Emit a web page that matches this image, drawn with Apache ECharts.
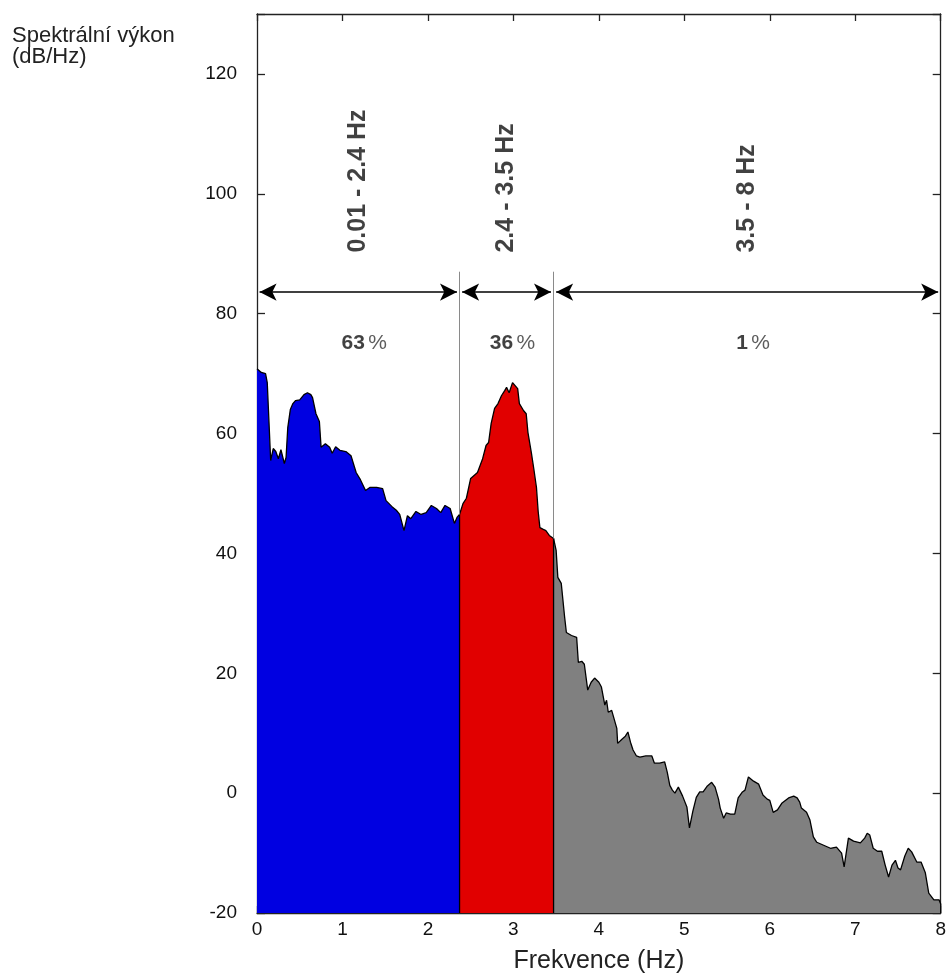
<!DOCTYPE html>
<html>
<head>
<meta charset="utf-8">
<script src="https://cdn.jsdelivr.net/npm/echarts@6/dist/echarts.min.js"></script>
<style>
    html, body { margin: 0; padding: 0; background: #fff; }
    #main { width: 949px; height: 979px; }
</style>
</head>
<body>
<div id="main"></div>
<script>
// pasma a jejich popisky
var bandEdges = [0, 2.37, 3.47, 8];
var bandRange = ['0.01 - 2.4 Hz', '2.4 - 3.5 Hz', '3.5 - 8 Hz'];
var bandShare = [63, 36, 1];

// 0.01 - 2.4 Hz
var freqLow = [0.00, 0.05, 0.10, 0.12, 0.14, 0.16, 0.19, 0.22, 0.25, 0.28, 0.32, 0.34, 0.36, 0.39, 0.42, 0.45,
    0.50, 0.55, 0.59, 0.63, 0.65, 0.69, 0.73, 0.75, 0.80, 0.85, 0.88, 0.92, 0.97, 1.04, 1.10, 1.12,
    1.16, 1.21, 1.27, 1.32, 1.40, 1.47, 1.51, 1.58, 1.63, 1.67, 1.72, 1.76, 1.80, 1.86, 1.92, 1.98,
    2.04, 2.10, 2.15, 2.20, 2.26, 2.31, 2.34, 2.37];
var powerLow = [70.8, 70.2, 70.0, 68.5, 62.0, 55.5, 57.5, 57.0, 55.8, 57.3, 55.0, 56.0, 61.0, 64.0, 65.0, 65.5,
    65.6, 66.5, 66.8, 66.5, 66.0, 63.3, 62.0, 57.7, 58.3, 57.7, 56.7, 57.8, 57.2, 57.0, 56.3, 56.0,
    53.5, 52.3, 50.5, 51.0, 51.0, 50.8, 48.8, 47.8, 47.2, 46.5, 43.8, 46.3, 45.8, 47.0, 46.5, 46.8,
    48.0, 47.5, 46.8, 48.0, 47.5, 45.0, 46.0, 46.5];

// 2.4 - 3.5 Hz
var freqMid = [2.37, 2.41, 2.45, 2.50, 2.54, 2.58, 2.64, 2.68, 2.71, 2.74, 2.78, 2.82, 2.86, 2.90, 2.92, 2.95,
    2.99, 3.02, 3.05, 3.07, 3.09, 3.12, 3.15, 3.17, 3.21, 3.24, 3.27, 3.29, 3.31, 3.35, 3.38, 3.42, 3.47];
var powerMid = [46.5, 48.3, 49.2, 52.5, 53.0, 53.5, 55.8, 58.0, 58.5, 61.7, 64.2, 65.0, 66.3, 67.2, 67.7, 66.8,
    68.5, 68.0, 67.5, 65.0, 65.2, 63.8, 63.3, 60.2, 56.8, 54.0, 51.0, 47.0, 44.3, 44.0, 43.8, 43.0, 42.5];

// 3.5 - 8 Hz
var freqHigh = [3.47, 3.50, 3.52, 3.56, 3.60, 3.62, 3.68, 3.74, 3.76, 3.80, 3.83, 3.87, 3.91, 3.95, 4.00, 4.03,
    4.07, 4.09, 4.11, 4.15, 4.21, 4.22, 4.27, 4.31, 4.34, 4.37, 4.40, 4.44, 4.48, 4.55, 4.62, 4.65,
    4.71, 4.77, 4.80, 4.83, 4.86, 4.89, 4.93, 4.98, 5.03, 5.06, 5.10, 5.14, 5.18, 5.22, 5.27, 5.32,
    5.36, 5.40, 5.42, 5.46, 5.49, 5.54, 5.59, 5.63, 5.68, 5.71, 5.75, 5.81, 5.87, 5.92, 5.97, 6.00,
    6.04, 6.09, 6.14, 6.22, 6.28, 6.32, 6.35, 6.37, 6.43, 6.47, 6.51, 6.55, 6.63, 6.71, 6.78, 6.84,
    6.87, 6.92, 6.98, 7.06, 7.11, 7.14, 7.17, 7.21, 7.26, 7.31, 7.35, 7.39, 7.43, 7.47, 7.50, 7.53,
    7.58, 7.62, 7.66, 7.72, 7.77, 7.82, 7.86, 7.92, 7.98, 8.00];
var powerHigh = [42.5, 40.5, 36.0, 35.0, 29.3, 26.8, 26.3, 26.0, 21.8, 22.0, 21.5, 17.2, 18.5, 19.2, 18.5, 17.7,
    14.7, 15.5, 13.5, 13.8, 10.8, 8.3, 9.0, 9.5, 10.2, 8.5, 7.2, 6.2, 6.0, 6.2, 6.2, 5.0,
    5.0, 5.2, 3.5, 1.3, 0.5, 0.0, 1.0, -0.5, -2.3, -5.8, -3.0, -0.7, 0.2, 0.2, 1.2, 1.8,
    1.0, -1.0, -2.5, -4.2, -3.3, -3.5, -3.5, -0.8, 0.2, 0.5, 2.7, 2.0, 1.5, -0.3, -1.0, -1.2,
    -3.2, -2.8, -1.7, -0.8, -0.5, -0.8, -1.5, -2.5, -3.2, -4.5, -7.3, -8.2, -8.7, -9.2, -9.0, -10.0,
    -12.3, -7.5, -8.0, -8.3, -7.5, -6.7, -7.0, -9.2, -9.7, -9.7, -12.0, -14.0, -12.0, -11.2, -12.5, -12.8,
    -10.5, -9.2, -9.8, -11.5, -11.5, -13.3, -16.7, -17.8, -17.8, -18.5];

var yMin = -20, yMax = 130;
var arrowLevel = 83.6;     // dB, vyska sipek
var edgeLineTop = 87.0;    // dB, zacatek sedych car
var rangeLabelY = 90.2;    // dB, spodek svislych popisku
var shareLabelY = 75.0;    // dB, procenta
var arrowGap = 0.03;

var textFont = "'Liberation Sans', Arial, sans-serif";

function buildArea(freq, power) {
    var list = [];
    for (var i = 0; i < freq.length; i++) {
        list.push([freq[i], power[i]]);
    }
    // svisla hrana plochy az dolu
    list.push([freq[freq.length - 1], yMin]);
    return list;
}

function areaSeries(name, freq, power, color) {
    return {
        name: name,
        type: 'line',
        data: buildArea(freq, power),
        showSymbol: false,
        symbol: 'none',
        lineStyle: { color: '#000', width: 1.3 },
        areaStyle: { color: color, opacity: 1, origin: 'start' },
        z: 2,
        animation: false
    };
}

function frameAxis(extra) {
    var axis = {
        type: 'value',
        axisLine: { onZero: false, lineStyle: { color: '#222', width: 1.3 } },
        axisTick: { inside: true, length: 7, lineStyle: { color: '#222', width: 1.3 } },
        axisLabel: { show: false },
        splitLine: { show: false }
    };
    for (var k in extra) {
        axis[k] = extra[k];
    }
    return axis;
}

var arrowData = [];
var edgeData = [];
var rangeData = [];
var shareData = [];
var edgeValues = [powerLow[powerLow.length - 1], powerMid[powerMid.length - 1]];
for (var i = 0; i < bandRange.length; i++) {
    var a = bandEdges[i], b = bandEdges[i + 1];
    arrowData.push([{ coord: [a + arrowGap, arrowLevel] }, { coord: [b - arrowGap, arrowLevel] }]);
    rangeData.push({ value: [(a + b) / 2, rangeLabelY], name: bandRange[i] });
    shareData.push({ value: [(a + b) / 2 + 0.07, shareLabelY], name: String(bandShare[i]) });
}
for (var j = 1; j < bandEdges.length - 1; j++) {
    edgeData.push([{ coord: [bandEdges[j], edgeLineTop] }, { coord: [bandEdges[j], edgeValues[j - 1]] }]);
}

var myChart = echarts.init(document.getElementById('main'));

var option = {
    backgroundColor: '#fff',
    animation: false,
    title: {
        text: 'Spektrální výkon\n(dB/Hz)',
        left: 7,
        top: 20,
        textStyle: {
            fontFamily: textFont,
            fontWeight: 'normal',
            fontSize: 22,
            lineHeight: 21,
            color: '#222'
        }
    },
    grid: {
        left: 257,
        right: 8,
        top: 14,
        bottom: 66
    },
    xAxis: [frameAxis({
        min: 0,
        max: 8,
        interval: 1,
        position: 'bottom',
        name: 'Frekvence (Hz)',
        nameLocation: 'middle',
        nameGap: 36,
        nameTextStyle: { fontFamily: textFont, fontSize: 25, color: '#222' },
        axisLabel: { fontFamily: textFont, fontSize: 19, color: '#111', margin: 7 }
    }), frameAxis({
        min: 0,
        max: 8,
        interval: 1,
        position: 'top'
    })],
    yAxis: [frameAxis({
        min: yMin,
        max: yMax,
        interval: 20,
        position: 'left',
        axisTick: { inside: true, length: 8, lineStyle: { color: '#222', width: 1.3 } },
        axisLabel: {
            fontFamily: textFont,
            fontSize: 19,
            color: '#111',
            margin: 20,
            formatter: function (v) { return v % 20 === 0 ? String(v) : ''; }
        }
    }), frameAxis({
        min: yMin,
        max: yMax,
        interval: 20,
        position: 'right',
        axisTick: { inside: true, length: 8, lineStyle: { color: '#222', width: 1.3 } }
    })],
    series: [
        areaSeries('low', freqLow, powerLow, '#0000e1'),
        areaSeries('mid', freqMid, powerMid, '#e10000'),
        areaSeries('high', freqHigh, powerHigh, '#808080'),
        {
            name: 'marks',
            type: 'line',
            data: [],
            markLine: {
                silent: true,
                animation: false,
                label: { show: false },
                symbol: ['arrow', 'arrow'],
                symbolSize: [13, 17],
                lineStyle: { color: '#000', width: 1.6, type: 'solid' },
                data: arrowData
            }
        },
        {
            name: 'edges',
            type: 'line',
            data: [],
            markLine: {
                silent: true,
                animation: false,
                label: { show: false },
                symbol: ['none', 'none'],
                lineStyle: { color: '#8a8a8a', width: 1, type: 'solid' },
                data: edgeData
            }
        },
        {
            name: 'range',
            type: 'scatter',
            symbolSize: 0,
            data: rangeData,
            label: {
                show: true,
                position: 'inside',
                rotate: 90,
                align: 'left',
                verticalAlign: 'middle',
                formatter: '{b}',
                fontFamily: textFont,
                fontWeight: 'bold',
                fontSize: 25,
                color: '#111'
            },
            z: 5
        },
        {
            name: 'share',
            type: 'scatter',
            symbolSize: 0,
            data: shareData,
            label: {
                show: true,
                position: 'inside',
                formatter: '{n|{b}} {p|%}',
                rich: {
                    n: { fontFamily: textFont, fontWeight: 'bold', fontSize: 21, color: '#111' },
                    p: { fontFamily: textFont, fontSize: 21, color: '#333' }
                }
            },
            z: 5
        }
    ]
};

myChart.setOption(option, true);
</script>
</body>
</html>
